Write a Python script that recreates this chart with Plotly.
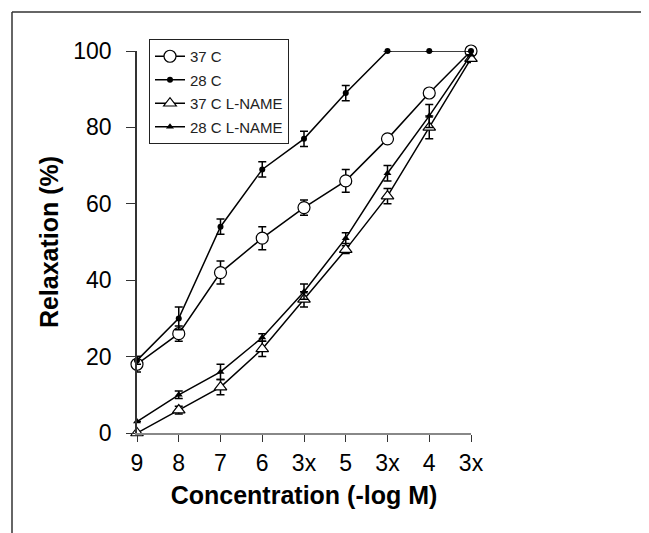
import plotly.graph_objects as go

tick_labels = ["9", "8", "7", "6", "3x", "5", "3x", "4", "3x"]
x_pos = list(range(len(tick_labels)))

names = ["37 C", "28 C", "37 C L-NAME", "28 C L-NAME"]
c37 = [18, 26, 42, 51, 59, 66, 77, 89, 100]
c37_err = [2, 2, 3, 3, 2, 3, 1, 1, 0]
c28 = [19, 30, 54, 69, 77, 89, 100, 100, 100]
c28_err = [1, 3, 2, 2, 2, 2, 0, 0, 0]
c37ln = [0, 6, 12, 22, 35, 48, 62, 80, 98]
c37ln_err = [0, 1, 2, 2, 2, 1, 2, 3, 1]
c28ln = [3, 10, 16, 25, 37, 51, 68, 83, 99]
c28ln_err = [0, 1, 2, 1, 2, 1.4, 2, 3, 0]

series = [
    (names[0], c37, c37_err, dict(symbol="circle", size=12, color="white", line=dict(color="black", width=1.2))),
    (names[1], c28, c28_err, dict(symbol="circle", size=6, color="black", line=dict(color="black", width=0))),
    (names[2], c37ln, c37ln_err, dict(symbol="triangle-up", size=11, color="white", line=dict(color="black", width=1.2))),
    (names[3], c28ln, c28ln_err, dict(symbol="triangle-up", size=7, color="black", line=dict(color="black", width=0))),
]

FONT = "Liberation Sans, Arial, sans-serif"

fig = go.Figure()
for i, (nm, vals, errs, mk) in enumerate(series):
    fig.add_trace(go.Scatter(
        x=x_pos, y=vals, name=nm, mode="lines+markers",
        line=dict(color="black", width=1.5),
        marker=mk,
        error_y=dict(type="data", array=errs, visible=True, color="black", thickness=1.5, width=4),
        cliponaxis=False,
        legendgroup=str(i),
    ))

# page has an 8px body margin; figure coordinates = screen - 8
OFF = 8
W, H = 649 - OFF, 533 - OFF
ml, mr, mt, mb = 137 - OFF, 649 - 471, 51 - OFF, 533 - 433
pw = W - ml - mr
ph = H - mt - mb

def px_x(p):
    return (p - OFF - ml) / pw

def px_y(p):
    return (H - mb - (p - OFF)) / ph

fig.update_layout(
    width=W, height=H,
    margin=dict(l=ml, r=mr, t=mt, b=mb, pad=0),
    paper_bgcolor="white", plot_bgcolor="white",
    font=dict(family=FONT, color="black"),
    showlegend=True,
    legend=dict(
        x=px_x(149), y=px_y(39), xanchor="left", yanchor="top",
        bordercolor="#222", borderwidth=1, bgcolor="white",
        font=dict(size=15, family=FONT, color="#222"),
        traceorder="grouped", tracegroupgap=1,
        itemwidth=30,
    ),
    xaxis=dict(
        range=[0, 8], tickvals=x_pos, ticktext=tick_labels,
        showgrid=False, zeroline=False,
        showline=True, linecolor="#888", linewidth=1.5,
        ticks="outside", ticklen=7, tickcolor="#333", tickwidth=1.2,
        tickfont=dict(size=23, family=FONT, color="black"),
        ticklabelstandoff=2,
        title=dict(text="<b>Concentration (-log M)</b>", font=dict(size=25, family=FONT, color="black"), standoff=11),
    ),
    yaxis=dict(
        range=[0, 100], tickvals=[0, 20, 40, 60, 80, 100],
        showgrid=False, zeroline=False,
        showline=True, linecolor="#333", linewidth=1.5,
        ticks="outside", ticklen=9, tickcolor="#333", tickwidth=1.2,
        tickfont=dict(size=23, family=FONT, color="black"),
        ticklabelstandoff=10,
        title=dict(text="<b>Relaxation (%)</b>", font=dict(size=25, family=FONT, color="black"), standoff=8),
    ),
    shapes=[
        dict(type="line", xref="paper", yref="paper", x0=px_x(12), x1=px_x(12), y0=px_y(12), y1=px_y(540), line=dict(color="#333", width=1.5)),
        dict(type="line", xref="paper", yref="paper", x0=px_x(12), x1=px_x(660), y0=px_y(12), y1=px_y(12), line=dict(color="#333", width=1.5)),
    ],
)

fig.write_html("out.html")
